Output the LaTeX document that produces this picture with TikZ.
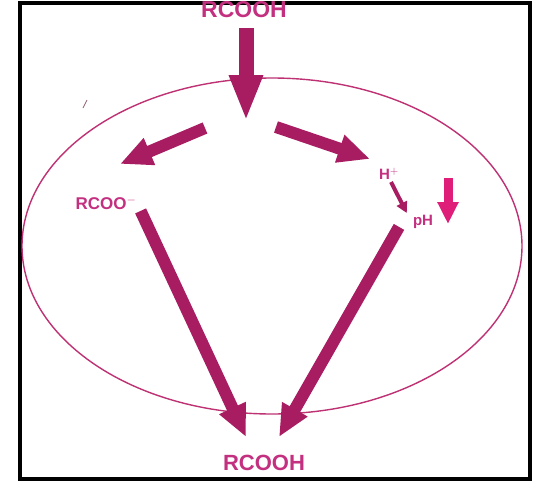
\documentclass[tikz,border=0pt]{standalone}
\usepackage{fontspec}
\setmainfont{Liberation Sans}
\usetikzlibrary{arrows.meta}
\definecolor{arrowc}{RGB}{168,28,98}
\definecolor{textc}{RGB}{196,48,128}
\definecolor{ellc}{RGB}{190,50,115}
\definecolor{pinkc}{RGB}{222,30,120}
\tikzset{
  lbl/.style={text=textc, font=\bfseries, inner sep=0pt},
  fatarrow/.style={draw=arrowc, line width=12pt, -{Triangle[length=32pt,width=27pt]}},
  bigarrow/.style={draw=arrowc, line width=15pt, -{Triangle[length=46pt,width=31pt]}},
  thinarrow/.style={draw=arrowc, line width=4pt, -{Triangle[length=11pt,width=11pt]}},
  pharrow/.style={draw=pinkc, line width=9pt, -{Triangle[length=22pt,width=20pt]}}
}
\begin{document}
\begin{tikzpicture}[x=1pt,y=-1pt]
\useasboundingbox (0,0) rectangle (547,490);
\fill[white] (0,0) rectangle (547,490);
% frame
\draw[black, line width=4pt] (20,3) rectangle (530,479);
% ellipse (cell)
\draw[ellc, line width=1.4pt] (272,246) ellipse [x radius=250, y radius=168];
% stray mark
\draw[gray!70!arrowc, line width=0.8pt] (83,108) -- (87,100);
% labels
\node[lbl, font=\bfseries\fontsize{23}{23}\selectfont] (top) at (244,10) {RCOOH};
\node[lbl, font=\bfseries\fontsize{17}{17}\selectfont] (rcoo) at (106,203) {RCOO$^{-}$};
\node[lbl, font=\bfseries\fontsize{15}{15}\selectfont] (hplus) at (389,174) {H$^{+}$};
\node[lbl, font=\bfseries\fontsize{15}{15}\selectfont] (ph) at (423,222) {pH};
\node[lbl, font=\bfseries\fontsize{22}{22}\selectfont] (bottom) at (264,463) {RCOOH};
% connector points
\coordinate (split) at (246,121);
\coordinate (lft) at (120,164);
\coordinate (rgt) at (370,159);
\coordinate (lstart) at (205,128);
\coordinate (rstart) at (276,127);
\coordinate (botl) at (246,437);
\coordinate (botr) at (279,437);
\coordinate (phtop) at (448,178);
\coordinate (phbot) at (448,224);
% arrows
\draw[bigarrow] ([yshift=-10pt]top.south -| split) -- (split);
\draw[fatarrow] (lstart) -- (lft);
\draw[fatarrow] (rstart) -- (rgt);
\draw[fatarrow] ([xshift=4pt,yshift=-1pt]rcoo.south east) -- (botl);
\draw[fatarrow] ([xshift=-24pt,yshift=2pt]ph.south) -- (botr);
\draw[thinarrow] ([xshift=2pt,yshift=-2pt]hplus.south) -- ([xshift=-6pt,yshift=2pt]ph.north west);
\draw[pharrow] (phtop) -- (phbot);
\end{tikzpicture}
\end{document}
